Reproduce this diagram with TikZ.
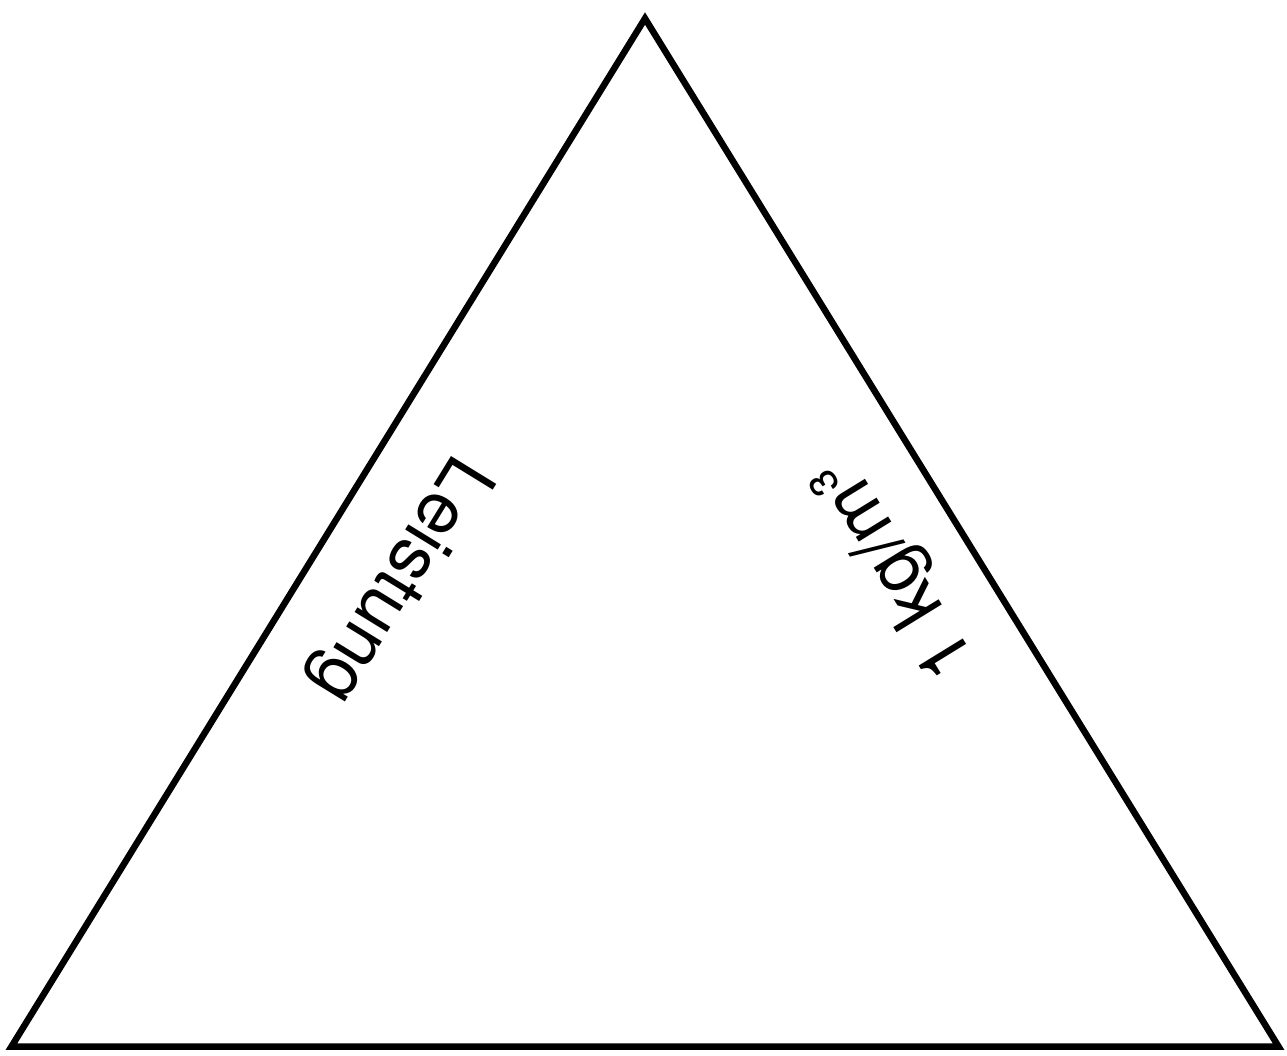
\documentclass[tikz,border=0pt]{standalone}
\usepackage{fontspec}
\setmainfont{TeX Gyre Heros}
\begin{document}
\begin{tikzpicture}[x=1pt,y=-1pt,
  edge/.style={draw=black,line width=6.5pt,miter limit=20},
  lbl/.style={inner sep=0pt,anchor=base,font=\fontsize{73}{80}\selectfont}]
\useasboundingbox (0,0) rectangle (1287,1056);
\coordinate (top) at (645,18.5);
\coordinate (bl) at (11.5,1046.5);
\coordinate (br) at (1278.5,1046.5);
\draw[edge] (top) -- (bl) -- (br) -- cycle;
\node[lbl,rotate=238.4] (leistung) at (382,569) {Leistung};
\node[lbl,rotate=121.6] (dichte) at (913,557) {1 kg/m³};
\end{tikzpicture}
\end{document}
